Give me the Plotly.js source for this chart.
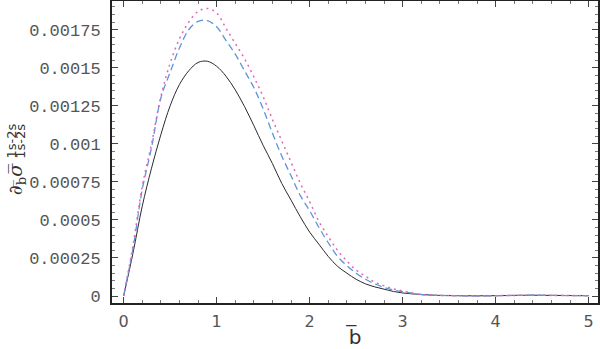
<!DOCTYPE html>
<html>
<head>
<meta charset="utf-8">
<script src="https://cdn.plot.ly/plotly-3.0.1.min.js"></script>
<style>
  body { margin: 0; background: #fff; }
  #chart { width: 600px; height: 349px; }
</style>
</head>
<body>
<div id="chart"></div>
<script>
// b-bar grid and the three curves
var bbar = [0, 0.1, 0.2, 0.3, 0.4, 0.5, 0.6, 0.7, 0.8, 0.9,
            1.0, 1.1, 1.2, 1.3, 1.4, 1.5, 1.6, 1.7, 1.8, 1.9,
            2.0, 2.1, 2.2, 2.3, 2.4, 2.5, 2.6, 2.7, 2.8, 2.9,
            3.0, 3.1, 3.2, 3.3, 3.4, 3.6, 3.8, 4.0, 4.2, 4.4, 4.6, 4.8, 5.0];

var solidVals = [0, 0.00028, 0.00059, 0.00084, 0.00106, 0.00125, 0.00139, 0.00148, 0.001535, 0.001543,
                 0.00151, 0.001445, 0.001355, 0.001245, 0.00112, 0.00099, 0.00087, 0.00074, 0.00063, 0.00052,
                 0.00042, 0.00034, 0.00026, 0.000195, 0.00015, 0.00011, 0.00008, 0.00006, 0.000045, 0.00003,
                 0.00002, 0.000014, 0.00001, 0.000006, 0.000004, 0.000002, 0.000001, 0.000002, 0.000004, 0.000005, 0.000004, 0.000003, 0.000002];

var dashVals = [0, 0.00031, 0.0007, 0.000975, 0.0013, 0.00147, 0.00163, 0.00175, 0.001805, 0.00181,
                0.00177, 0.00168, 0.00159, 0.00148, 0.00137, 0.00123, 0.00107, 0.00092, 0.00079, 0.00066,
                0.00056, 0.00045, 0.00035, 0.00026, 0.0002, 0.00015, 0.00011, 0.00008, 0.000057, 0.00004,
                0.000028, 0.000018, 0.00001, 0.000006, 0.000004, 0.000002, 0.000001, 0.000002, 0.000004, 0.000005, 0.000004, 0.000003, 0.000002];

var dotVals = [0, 0.00033, 0.00072, 0.001, 0.00131, 0.00153, 0.00169, 0.0018, 0.00187, 0.00189,
               0.00186, 0.00176, 0.00166, 0.00156, 0.00144, 0.00131, 0.00116, 0.00102, 0.00088, 0.00074,
               0.00062, 0.00049, 0.00039, 0.0003, 0.00023, 0.00017, 0.00013, 0.00009, 0.000067, 0.000047,
               0.000033, 0.00002, 0.00001, 0.000006, 0.000004, 0.000002, 0.000001, 0.000002, 0.000004, 0.000005, 0.000004, 0.000003, 0.000002];

var yTickVals = [0, 0.00025, 0.0005, 0.00075, 0.001, 0.00125, 0.0015, 0.00175];
var yTickText = ['0', '0.00025', '0.0005', '0.00075', '0.001', '0.00125', '0.0015', '0.00175'];

var solid = {
    x: bbar, y: solidVals, type: 'scatter', mode: 'lines',
    line: {color: '#2b2b2b', width: 1, shape: 'spline'}
};
var dashed = {
    x: bbar, y: dashVals, type: 'scatter', mode: 'lines',
    line: {color: '#5b95dc', width: 1.3, dash: '7px,4px', shape: 'spline'}
};
var dotted = {
    x: bbar, y: dotVals, type: 'scatter', mode: 'lines',
    line: {color: '#e466b4', width: 1.5, dash: '2px,4px', shape: 'spline'}
};

var layout = {
    width: 600,
    height: 349,
    margin: {l: 112, r: 2, t: 1, b: 46},
    paper_bgcolor: '#fff',
    plot_bgcolor: '#fff',
    showlegend: false,
    xaxis: {
        range: [-0.125, 5.1],
        tickvals: [0, 1, 2, 3, 4, 5],
        ticks: 'inside',
        ticklen: 6,
        tickcolor: '#444',
        ticklabelstandoff: 3,
        minor: {dtick: 0.2, ticks: 'inside', ticklen: 3, tickcolor: '#777'},
        showgrid: false,
        zeroline: false,
        showline: true,
        linecolor: '#222',
        linewidth: 2,
        mirror: 'ticks',
        tickfont: {family: 'DejaVu Sans', size: 16, color: '#555'},
        title: {text: 'b\u0305', font: {family: 'DejaVu Sans', size: 20, color: '#333'}, standoff: 2}
    },
    yaxis: {
        range: [-0.000046, 0.001939],
        tickvals: yTickVals,
        ticktext: yTickText,
        ticks: 'inside',
        ticklen: 6,
        tickcolor: '#444',
        ticklabelstandoff: 6,
        minor: {dtick: 0.00005, ticks: 'inside', ticklen: 3, tickcolor: '#777'},
        showgrid: false,
        zeroline: false,
        showline: true,
        linecolor: '#222',
        linewidth: 2,
        mirror: 'ticks',
        tickfont: {family: 'Liberation Mono', size: 17, color: '#555'}
    },
    annotations: [
        {xref: 'paper', yref: 'paper', x: -0.1975, y: 0.41, textangle: -90,
         xanchor: 'center', yanchor: 'middle', showarrow: false,
         text: '<i>\u2202</i><sub>b\u0305</sub><i>\u03c3\u0305</i>',
         font: {family: 'DejaVu Serif', size: 19, color: '#333'}},
        {xref: 'paper', yref: 'paper', x: -0.2075, y: 0.535, textangle: -90,
         xanchor: 'center', yanchor: 'middle', showarrow: false,
         text: '1s-2s', font: {family: 'DejaVu Sans', size: 13, color: '#333'}},
        {xref: 'paper', yref: 'paper', x: -0.1885, y: 0.535, textangle: -90,
         xanchor: 'center', yanchor: 'middle', showarrow: false,
         text: '1s-2s', font: {family: 'DejaVu Sans', size: 13, color: '#333'}}
    ]
};

Plotly.newPlot('chart', [solid, dashed, dotted], layout, {displayModeBar: false, staticPlot: true});
</script>
</body>
</html>
